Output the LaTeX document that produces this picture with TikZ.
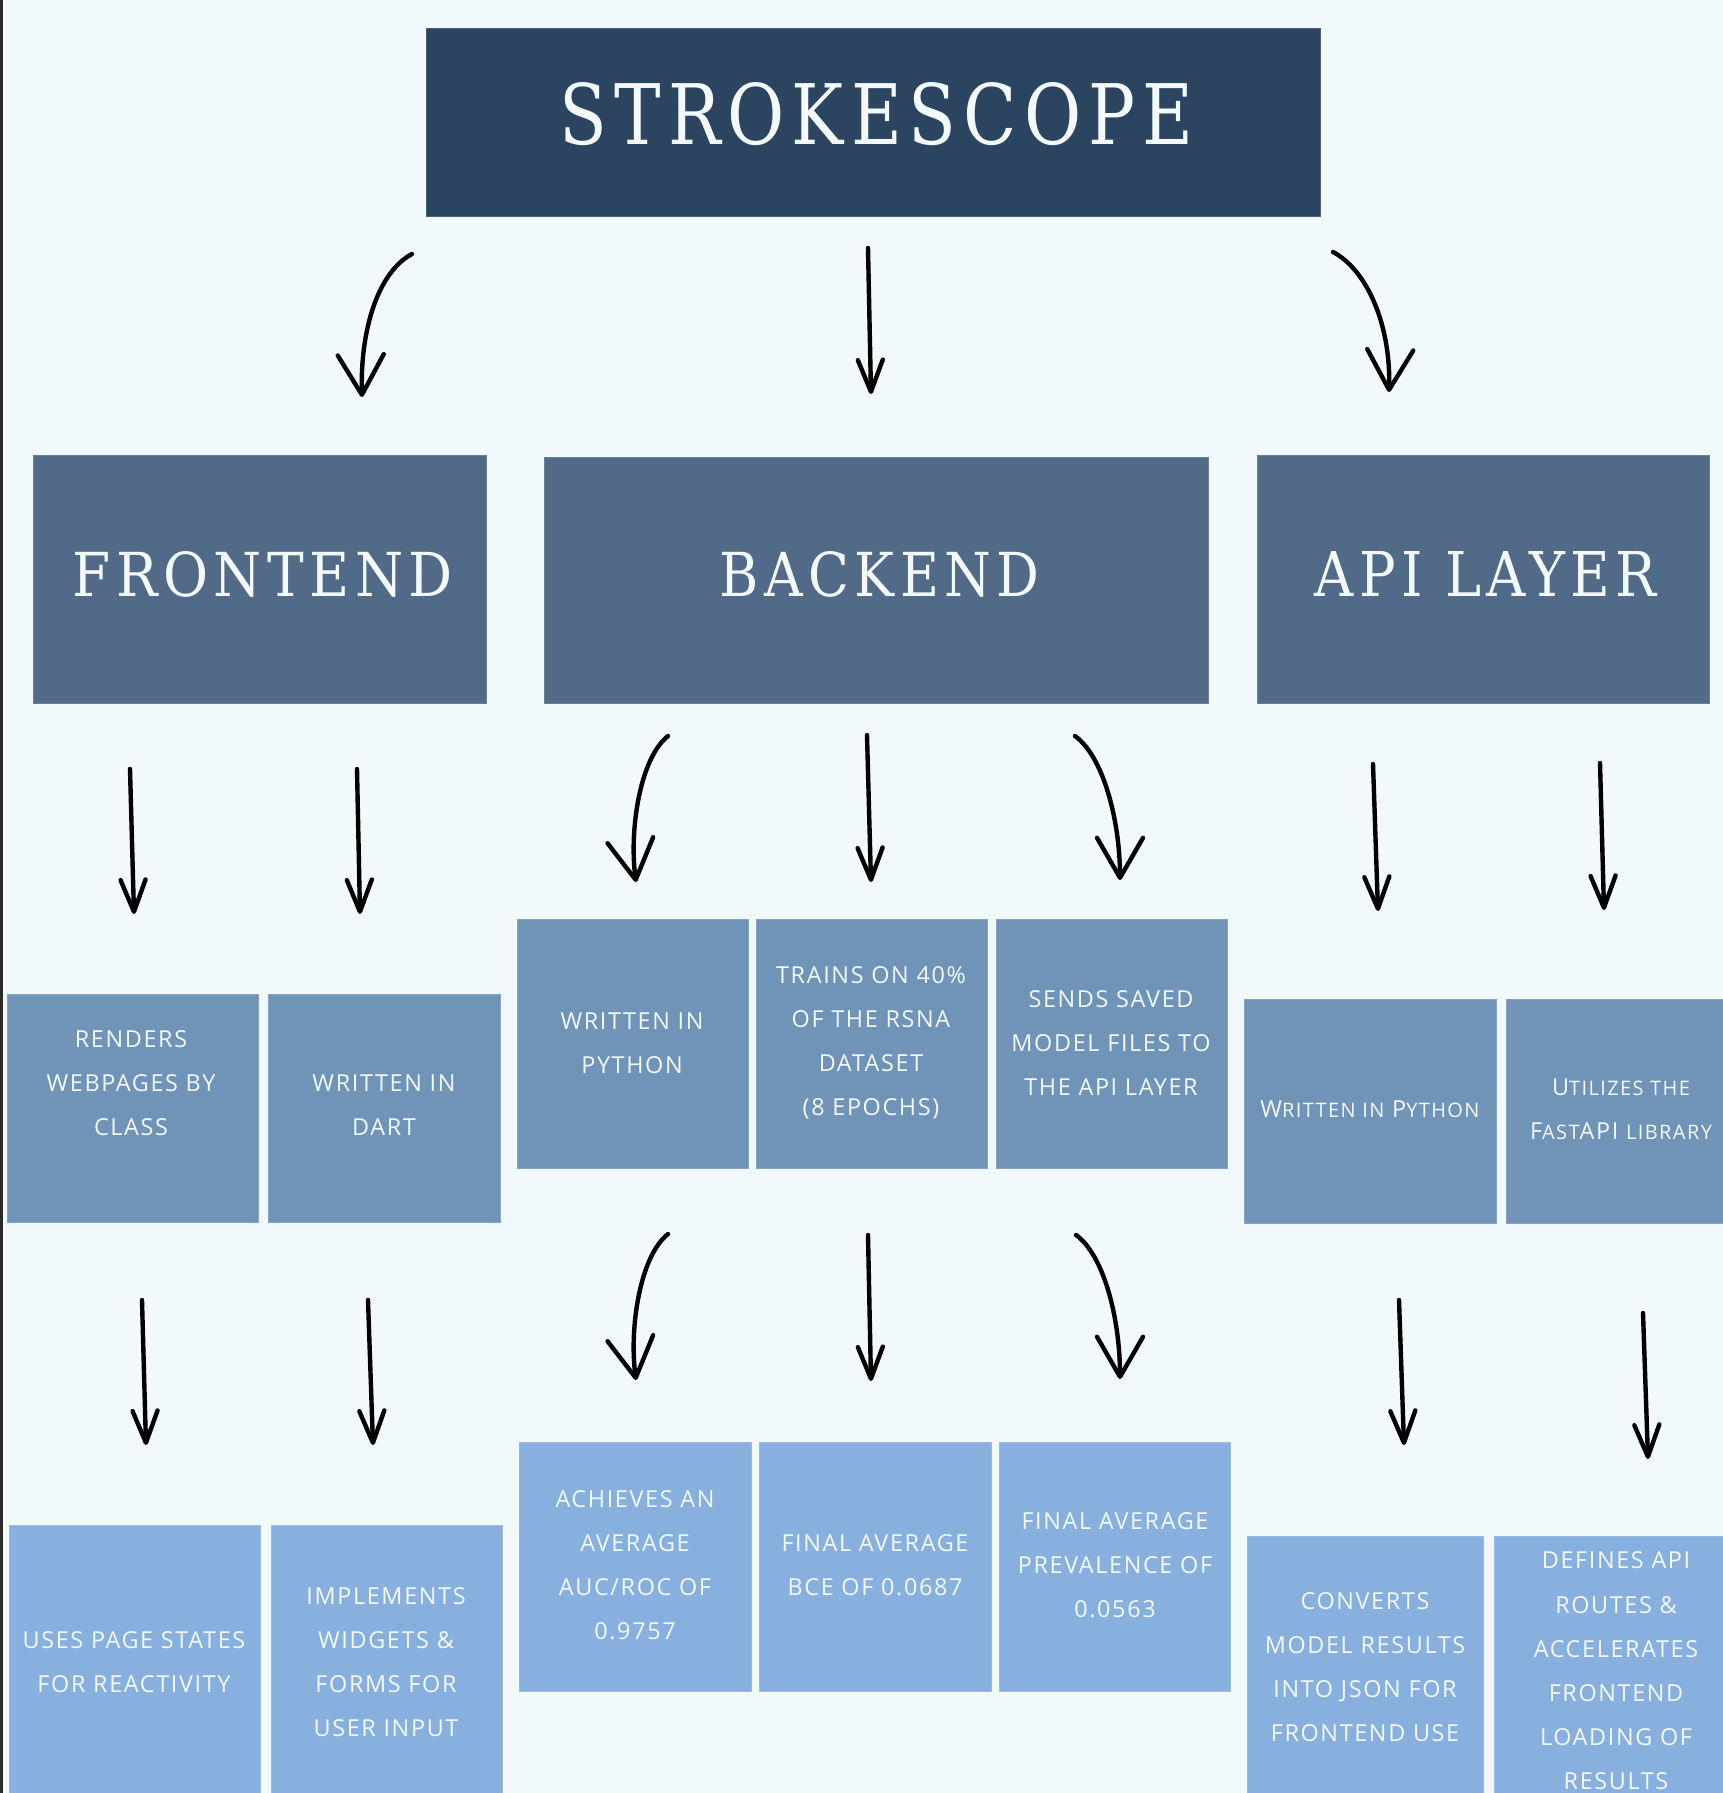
\documentclass[tikz,border=0pt]{standalone}
\usepackage{fontspec}
\usepackage{graphicx}
\setmainfont{Open Sans}
\newfontfamily\headfont[LetterSpace=10]{DejaVu Serif}
\newfontfamily\bodyfont[LetterSpace=7]{Open Sans}
\usetikzlibrary{arrows.meta,fit}
\definecolor{bgc}{HTML}{F2F9FD}
\definecolor{edgec}{HTML}{2A2A2A}
\definecolor{cone}{HTML}{2B4560}
\definecolor{ctwo}{HTML}{506A87}
\definecolor{cthree}{HTML}{7094B8}
\definecolor{cfour}{HTML}{88B0DE}
\definecolor{ctext}{HTML}{F3F9FC}
\newcommand\bodysize{\fontsize{11.7}{22.1}\selectfont}
\newcommand\mysc[1]{{\fontsize{10}{22.1}\selectfont #1}}
\newcommand\headtext[3]{\resizebox{#1}{#2}{\headfont #3\kern-1pt}}
\tikzset{
  boxbase/.style={inner sep=0pt, outer sep=0pt, line width=0.5pt},
  boxone/.style={boxbase, fill=cone, draw=cone!85!white},
  boxtwo/.style={boxbase, fill=ctwo, draw=ctwo!85!white},
  boxthree/.style={boxbase, fill=cthree, draw=cthree!85!white},
  boxfour/.style={boxbase, fill=cfour, draw=cfour!85!white},
  headtxt/.style={inner sep=0pt, text=ctext},
  txt/.style={inner sep=0pt, text=ctext, align=center, font=\bodyfont\bodysize},
  sarr/.style={line width=2.2pt, line cap=round, -{Straight Barb[length=16pt,width=12.5pt,round]}},
  carr/.style={line width=2.2pt, line cap=round, -{Straight Barb[length=20pt,width=23pt,round]}}
}
\begin{document}
\begin{tikzpicture}[x=0.5pt,y=-0.5pt]
\fill[bgc] (0,0) rectangle (1723,1793);
\useasboundingbox (0,0) rectangle (1723,1793);
\fill[edgec] (0,0) rectangle (2.5,1793);

% level 1 and 2 boxes
\node[boxone, fit={(426,29)(1320,216)}] (title) {};
\node[boxtwo, fit={(33,455)(486,703)}] (fe) {};
\node[boxtwo, fit={(544,457)(1208,703)}] (be) {};
\node[boxtwo, fit={(1257,455)(1709,703)}] (api) {};

% level 3 boxes
\node[boxthree, fit={(7,994)(258,1222)}] (fe1) {};
\node[boxthree, fit={(268,994)(500,1222)}] (fe2) {};
\node[boxthree, fit={(517,919)(748,1168)}] (be1) {};
\node[boxthree, fit={(756,919)(987,1168)}] (be2) {};
\node[boxthree, fit={(996,919)(1227,1168)}] (be3) {};
\node[boxthree, fit={(1244,999)(1496,1223)}] (api1) {};
\node[boxthree, fit={(1506,999)(1728,1223)}] (api2) {};

% level 4 boxes
\node[boxfour, fit={(9,1525)(260,1800)}] (fe1b) {};
\node[boxfour, fit={(271,1525)(502,1800)}] (fe2b) {};
\node[boxfour, fit={(519,1442)(751,1691)}] (be1b) {};
\node[boxfour, fit={(759,1442)(991,1691)}] (be2b) {};
\node[boxfour, fit={(999,1442)(1230,1691)}] (be3b) {};
\node[boxfour, fit={(1247,1536)(1483,1800)}] (api1b) {};
\node[boxfour, fit={(1494,1536)(1728,1800)}] (api2b) {};

% headings
\node[headtxt] (ttitle) at (873,114) {\headtext{313pt}{31pt}{STROKESCOPE}};
\node[headtxt] (tfe) at (260,574) {\headtext{187.5pt}{22.5pt}{FRONTEND}};
\node[headtxt] (tbe) at (877,574) {\headtext{157pt}{22.5pt}{BACKEND}};
\node[headtxt] (tapi) at (1483,574) {\headtext{168.5pt}{22.5pt}{API LAYER}};

% level 3 texts
\node[txt] (tfe1) at (131,1083) {RENDERS\\WEBPAGES BY\\CLASS};
\node[txt] (tfe2) at (384,1105) {WRITTEN IN\\DART};
\node[txt] (tbe1) at (632,1043) {WRITTEN IN\\PYTHON};
\node[txt] (tbe2) at (871,1043) {TRAINS ON 40\%\\OF THE RSNA\\DATASET\\(8 EPOCHS)};
\node[txt] (tbe3) at (1111,1043) {SENDS SAVED\\MODEL FILES TO\\THE API LAYER};
\node[txt] (tapi1) at (1370,1109) {W\mysc{RITTEN IN} P\mysc{YTHON}};
\node[txt] (tapi2) at (1621,1109) {U\mysc{TILIZES THE}\\F\mysc{AST}API \mysc{LIBRARY}};

% level 4 texts
\node[txt] (tfe1b) at (134,1662) {USES PAGE STATES\\FOR REACTIVITY};
\node[txt] (tfe2b) at (386,1662) {IMPLEMENTS\\WIDGETS \&\\FORMS FOR\\USER INPUT};
\node[txt] (tbe1b) at (635,1565) {ACHIEVES AN\\AVERAGE\\AUC/ROC OF\\0.9757};
\node[txt] (tbe2b) at (875,1565) {FINAL AVERAGE\\BCE OF 0.0687};
\node[txt] (tbe3b) at (1115,1565) {FINAL AVERAGE\\PREVALENCE OF\\0.0563};
\node[txt] (tapi1b) at (1365,1667) {CONVERTS\\MODEL RESULTS\\INTO JSON FOR\\FRONTEND USE};
\node[txt] (tapi2b) at (1616,1671) {DEFINES API\\ROUTES \&\\ACCELERATES\\FRONTEND\\LOADING OF\\RESULTS};

% arrow end points
\coordinate (a1s) at (412,254); \coordinate (a1e) at (362,397);
\coordinate (a2s) at (868,248); \coordinate (a2e) at (871,394);
\coordinate (a3s) at (1333,252); \coordinate (a3e) at (1389,392);

\coordinate (b1s) at (130,769); \coordinate (b1e) at (134,914);
\coordinate (b2s) at (357,769); \coordinate (b2e) at (360,914);
\coordinate (b3s) at (668,736); \coordinate (b3e) at (636,882);
\coordinate (b4s) at (867,735); \coordinate (b4e) at (871,882);
\coordinate (b5s) at (1075,736); \coordinate (b5e) at (1120,880);
\coordinate (b6s) at (1373,764); \coordinate (b6e) at (1378,911);
\coordinate (b7s) at (1600,763); \coordinate (b7e) at (1604,910);

\coordinate (c1s) at (142,1300); \coordinate (c1e) at (146,1445);
\coordinate (c2s) at (368,1300); \coordinate (c2e) at (373,1445);
\coordinate (c3s) at (668,1234); \coordinate (c3e) at (636,1380);
\coordinate (c4s) at (868,1235); \coordinate (c4e) at (871,1381);
\coordinate (c5s) at (1076,1235); \coordinate (c5e) at (1120,1379);
\coordinate (c6s) at (1399,1300); \coordinate (c6e) at (1404,1445);
\coordinate (c7s) at (1643,1313); \coordinate (c7e) at (1648,1459);

% arrows
\draw[carr] (a1s) .. controls +(-34,18) and +(-2,-67) .. (a1e);
\draw[sarr] (a2s) -- (a2e);
\draw[carr] (a3s) .. controls +(34,18) and +(2,-67) .. (a3e);

\draw[sarr] (b1s) -- (b1e);
\draw[sarr] (b2s) -- (b2e);
\draw[carr] (b3s) .. controls +(-28,22) and +(-7,-52) .. (b3e);
\draw[sarr] (b4s) -- (b4e);
\draw[carr] (b5s) .. controls +(28,20) and +(0,-60) .. (b5e);
\draw[sarr] (b6s) -- (b6e);
\draw[sarr] (b7s) -- (b7e);

\draw[sarr] (c1s) -- (c1e);
\draw[sarr] (c2s) -- (c2e);
\draw[carr] (c3s) .. controls +(-28,22) and +(-7,-52) .. (c3e);
\draw[sarr] (c4s) -- (c4e);
\draw[carr] (c5s) .. controls +(28,20) and +(0,-60) .. (c5e);
\draw[sarr] (c6s) -- (c6e);
\draw[sarr] (c7s) -- (c7e);
\end{tikzpicture}
\end{document}
